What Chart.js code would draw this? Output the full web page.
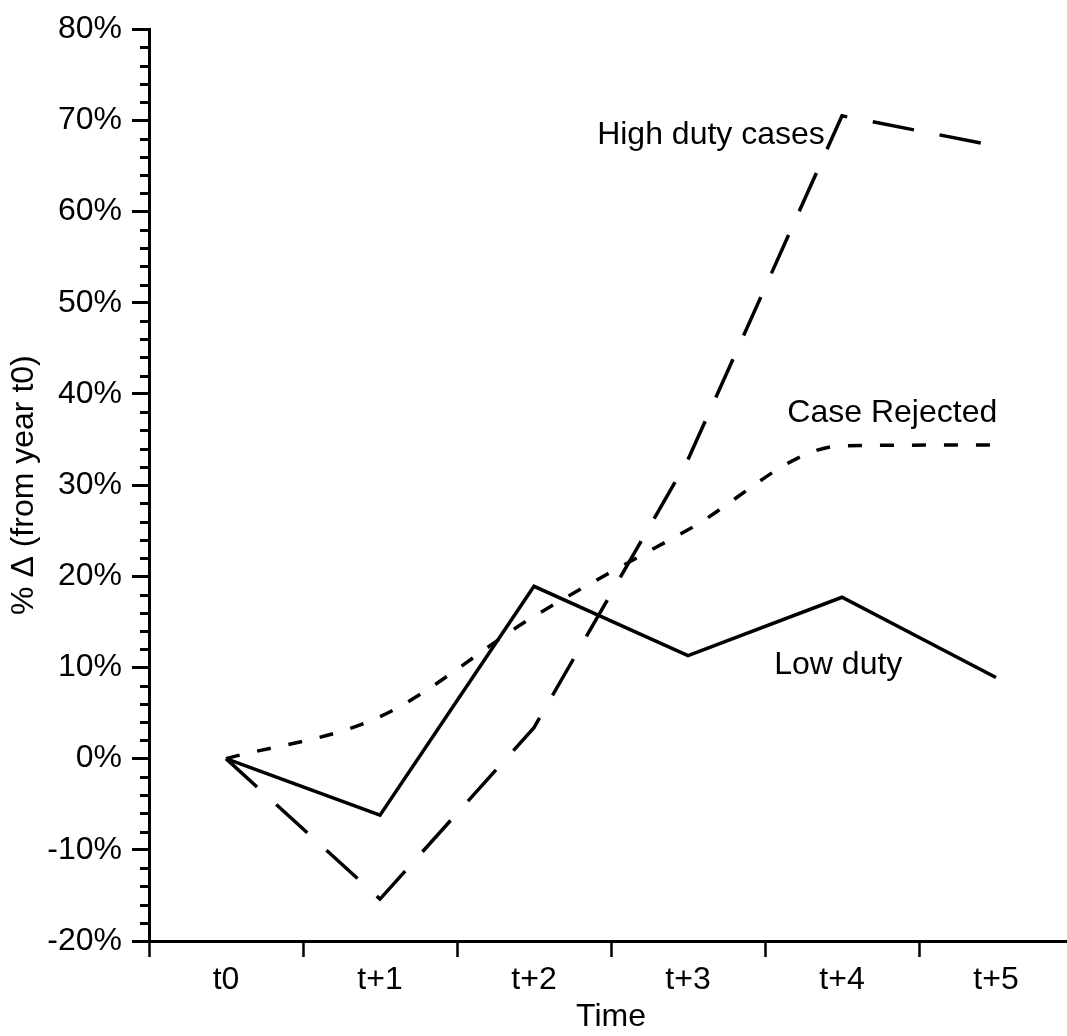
<!DOCTYPE html>
<html>
<head>
<meta charset="utf-8">
<title>% change from year t0</title>
<script src="https://cdn.jsdelivr.net/npm/chart.js@4.4.1/dist/chart.umd.min.js"></script>
<style>
  html, body { margin: 0; padding: 0; background: #fff; overflow: hidden; }
  #wrap { width: 1067px; height: 1036px; overflow: hidden; }
  canvas { display: block; }
</style>
</head>
<body>
<div id="wrap"><canvas id="chart" width="1080" height="1036"></canvas></div>
<script>
// --------------------
// Data (% change from year t0)
// --------------------
const timeLabels = ["t0", "t+1", "t+2", "t+3", "t+4", "t+5"];
const lowDuty = [0, -6.2, 18.9, 11.3, 17.7, 8.9];
const highDuty = [0, -15.4, 3.4, 32.8, 70.5, 67.2];
const caseRejected = [0, 4.6, 15.6, 25.1, 34.3, 34.4];
const seriesNames = ["Low duty", "High duty cases", "Case Rejected"];

const FONT = '"Liberation Sans", Arial, sans-serif';
Chart.defaults.font.family = FONT;
Chart.defaults.font.size = 32;
Chart.defaults.color = "#000";

// --------------------
// Small plugins: minor y ticks + series labels
// --------------------
const minorTicks = {
  id: "minorTicks",
  afterDraw(chart) {
    const ys = chart.scales.y;
    const ctx = chart.ctx;
    ctx.save();
    ctx.strokeStyle = "#000";
    ctx.lineWidth = 3;
    for (let v = ys.min; v <= ys.max; v += 2) {
      if (v % 10 === 0) continue;
      const py = Math.round(ys.getPixelForValue(v)) + 0.5;
      ctx.beginPath();
      ctx.moveTo(ys.right - 9, py);
      ctx.lineTo(ys.right, py);
      ctx.stroke();
    }
    ctx.restore();
  }
};

// label anchors in data units (category index, %)
const labelSpots = [
  { name: seriesNames[1], x: 2.41, y: 67.4 },
  { name: seriesNames[2], x: 3.645, y: 36.95 },
  { name: seriesNames[0], x: 3.56, y: 9.3 }
];

const seriesLabels = {
  id: "seriesLabels",
  afterDatasetsDraw(chart) {
    const { ctx, scales: { x, y } } = chart;
    ctx.save();
    ctx.font = `32px ${FONT}`;
    ctx.fillStyle = "#000";
    ctx.textAlign = "left";
    ctx.textBaseline = "alphabetic";
    labelSpots.forEach(s => {
      ctx.fillText(s.name, x.getPixelForValue(s.x), y.getPixelForValue(s.y));
    });
    ctx.restore();
  }
};

// --------------------
// Chart
// --------------------
const ctx = document.getElementById("chart").getContext("2d");
new Chart(ctx, {
  type: "line",
  data: {
    labels: timeLabels,
    datasets: [
      { label: seriesNames[0], data: lowDuty, borderColor: "#000", borderWidth: 3.5, pointRadius: 0, tension: 0 },
      { label: seriesNames[1], data: highDuty, borderColor: "#000", borderWidth: 3.5, pointRadius: 0, tension: 0, borderDash: [42, 26] },
      { label: seriesNames[2], data: caseRejected, borderColor: "#000", borderWidth: 3.5, pointRadius: 0, cubicInterpolationMode: "monotone", borderDash: [14, 18] }
    ]
  },
  options: {
    responsive: false,
    animation: false,
    devicePixelRatio: 1,
    layout: { padding: { top: 21, right: 7, left: 0, bottom: 0 } },
    plugins: { legend: { display: false }, tooltip: { enabled: false } },
    scales: {
      x: {
        offset: true,
        grid: { offset: true, drawOnChartArea: false, tickLength: 16, tickWidth: 2.5, tickColor: "#000" },
        border: { color: "#000", width: 3 },
        ticks: { padding: 4, maxRotation: 0, autoSkip: false },
        title: { display: true, text: "Time", padding: { top: 0, bottom: 0 } },
        afterFit(scale) { scale.height = 95; }
      },
      y: {
        min: -20,
        max: 80,
        grid: { drawOnChartArea: false, tickLength: 17, tickWidth: 3, tickColor: "#000" },
        border: { color: "#000", width: 3 },
        ticks: { stepSize: 10, padding: 10, callback: v => `${v}%` },
        title: { display: true, text: "% Δ (from year t0)", padding: { top: 5, bottom: 0 } },
        afterFit(scale) { scale.width = 149; }
      }
    }
  },
  plugins: [minorTicks, seriesLabels]
});
</script>
</body>
</html>
